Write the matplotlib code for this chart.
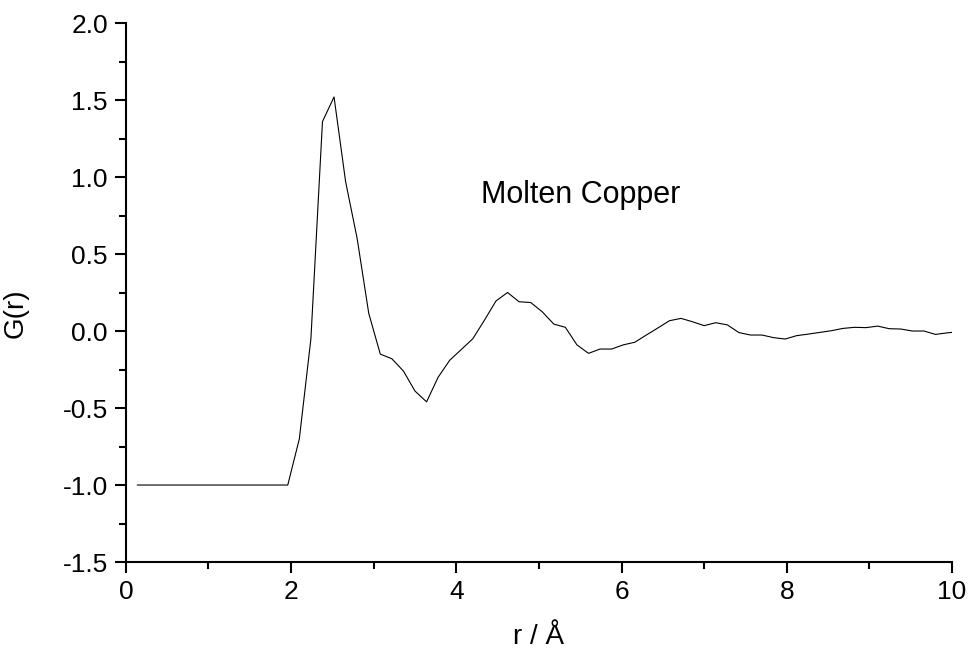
import matplotlib
matplotlib.use('Agg')
import matplotlib.pyplot as plt
from matplotlib.ticker import MultipleLocator, FormatStrFormatter

# radial distance r (Angstrom) and pair distribution G(r) for molten copper
r = [0.14, 0.28, 0.42, 0.56, 0.70, 0.84, 0.98, 1.12, 1.26, 1.40,
     1.54, 1.68, 1.82, 1.96, 2.10, 2.24, 2.38, 2.52, 2.66, 2.80,
     2.94, 3.08, 3.22, 3.36, 3.50, 3.64, 3.78, 3.92, 4.06, 4.20,
     4.34, 4.48, 4.62, 4.76, 4.90, 5.04, 5.18, 5.32, 5.46, 5.60,
     5.74, 5.88, 6.02, 6.16, 6.30, 6.44, 6.58, 6.72, 6.86, 7.00,
     7.14, 7.28, 7.42, 7.56, 7.70, 7.84, 7.98, 8.12, 8.26, 8.40,
     8.54, 8.68, 8.82, 8.96, 9.10, 9.24, 9.38, 9.52, 9.66, 9.80,
     9.94, 10.08]
g = [-1.0, -1.0, -1.0, -1.0, -1.0, -1.0, -1.0, -1.0, -1.0, -1.0,
     -1.0, -1.0, -1.0, -1.0, -0.70, -0.05, 1.36, 1.52, 0.97, 0.60,
     0.115, -0.15, -0.18, -0.26, -0.39, -0.46, -0.30, -0.19, -0.12, -0.05,
     0.07, 0.195, 0.25, 0.19, 0.185, 0.125, 0.045, 0.024, -0.09, -0.145,
     -0.117, -0.117, -0.09, -0.073, -0.026, 0.02, 0.067, 0.082, 0.06, 0.035,
     0.054, 0.04, -0.01, -0.026, -0.026, -0.043, -0.052, -0.03, -0.02, -0.009,
     0.002, 0.017, 0.024, 0.022, 0.032, 0.015, 0.013, 0.0, 0.0, -0.022,
     -0.012, -0.005]

plt.rcParams['font.family'] = ['Liberation Sans', 'DejaVu Sans']

fig = plt.figure(figsize=(9.68, 6.52), dpi=100)
ax = fig.add_axes([0.130, 0.138, 0.8535, 0.8267])

ax.plot(r, g, color='black', linewidth=0.8)

ax.set_xlim(0, 10)
ax.set_ylim(-1.5, 2.0)
ax.xaxis.set_major_locator(MultipleLocator(2))
ax.xaxis.set_minor_locator(MultipleLocator(1))
ax.yaxis.set_major_locator(MultipleLocator(0.5))
ax.yaxis.set_minor_locator(MultipleLocator(0.25))
ax.yaxis.set_major_formatter(FormatStrFormatter('%.1f'))

# only left and bottom axis lines
for side in ['top', 'right']:
    ax.spines[side].set_visible(False)
for side in ['left', 'bottom']:
    ax.spines[side].set_linewidth(1.5)

ax.tick_params(which='major', direction='out', length=8, width=1.5,
               labelsize=19, pad=5)
ax.tick_params(which='minor', direction='out', length=5, width=1.5)

ax.set_xlabel('r / Å', fontsize=20)
ax.set_ylabel('G(r)', fontsize=20)
ax.xaxis.set_label_coords(0.50, -0.115)
ax.yaxis.set_label_coords(-0.118, 0.462)

ax.text(4.30, 0.88, 'Molten Copper', fontsize=22, va='center', ha='left')

fig.savefig('out.png', dpi=100)
